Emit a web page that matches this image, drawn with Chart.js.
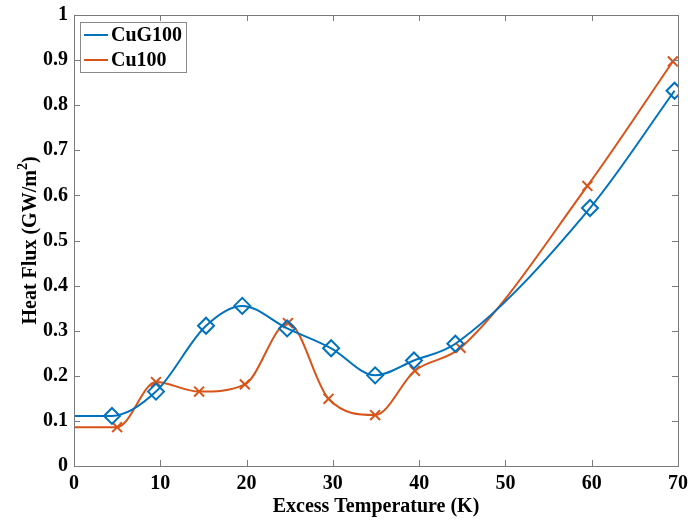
<!DOCTYPE html>
<html>
<head>
<meta charset="utf-8">
<script src="https://cdn.jsdelivr.net/npm/chart.js@4/dist/chart.umd.min.js"></script>
<style>
  html, body { margin: 0; padding: 0; background: #fff; }
  #wrap { width: 688px; height: 522px; }
</style>
</head>
<body>
<div id="wrap"><canvas id="chart"></canvas></div>
<script>
// Excess temperature (K) and heat flux (GW/m^2) for both surfaces
const tempCuG = [0, 4.4, 9.5, 15.3, 19.5, 24.7, 29.8, 34.9, 39.4, 44.2, 59.8, 69.6];
const fluxCuG = [0.111, 0.111, 0.165, 0.311, 0.355, 0.305, 0.261, 0.201, 0.234, 0.271, 0.572, 0.832];
const tempCu = [0, 5.0, 9.5, 14.5, 19.8, 24.8, 29.5, 34.9, 39.5, 44.8, 59.5, 69.4];
const fluxCu = [0.086, 0.086, 0.186, 0.165, 0.181, 0.317, 0.149, 0.113, 0.211, 0.262, 0.621, 0.897];
const xTicks = [0, 10, 20, 30, 40, 50, 60, 70];
const yTicks = [0, 0.1, 0.2, 0.3, 0.4, 0.5, 0.6, 0.7, 0.8, 0.9, 1];

const blue = '#0072BD';
const red = '#D95319';
const font = 'Liberation Serif, Times New Roman, serif';

function toPoints(xs, ys) {
  return xs.map((x, i) => ({ x: x, y: ys[i] }));
}
// first point only anchors the flat lead-in, no marker there
function radii(n, r) {
  return Array.from({ length: n }, (_, i) => (i === 0 ? 0 : r));
}

// MATLAB-like box: frame on all sides with ticks pointing inward
const boxTicks = {
  id: 'boxTicks',
  afterDatasetsDraw(chart) {
    const { ctx, chartArea: a, scales } = chart;
    ctx.save();
    ctx.strokeStyle = '#7a7a7a';
    ctx.lineWidth = 1;
    ctx.strokeRect(a.left + 0.5, a.top + 0.5, a.right - a.left, a.bottom - a.top);
    ctx.beginPath();
    xTicks.forEach(v => {
      const px = Math.round(scales.x.getPixelForValue(v)) + 0.5;
      ctx.moveTo(px, a.bottom); ctx.lineTo(px, a.bottom - 6);
      ctx.moveTo(px, a.top); ctx.lineTo(px, a.top + 6);
    });
    yTicks.forEach(v => {
      const py = Math.round(scales.y.getPixelForValue(v)) + 0.5;
      ctx.moveTo(a.left, py); ctx.lineTo(a.left + 6, py);
      ctx.moveTo(a.right, py); ctx.lineTo(a.right - 6, py);
    });
    ctx.stroke();
    ctx.restore();
  }
};

// y title drawn by hand so the squared unit gets a proper superscript
const yTitle = {
  id: 'yTitle',
  afterDraw(chart) {
    const { ctx, chartArea: a } = chart;
    const main = 'Heat Flux (GW/m';
    ctx.save();
    ctx.translate(36, (a.top + a.bottom) / 2);
    ctx.rotate(-Math.PI / 2);
    ctx.fillStyle = '#000';
    ctx.textBaseline = 'alphabetic';
    ctx.font = 'bold 20px ' + font;
    const w1 = ctx.measureText(main).width;
    ctx.font = 'bold 14px ' + font;
    const w2 = ctx.measureText('2').width;
    ctx.font = 'bold 20px ' + font;
    const w3 = ctx.measureText(')').width;
    let x = -(w1 + w2 + w3) / 2;
    ctx.fillText(main, x, 0);
    x += w1;
    ctx.font = 'bold 14px ' + font;
    ctx.fillText('2', x, -9);
    x += w2;
    ctx.font = 'bold 20px ' + font;
    ctx.fillText(')', x, 0);
    ctx.restore();
  }
};

// legend box inside the top-left corner of the plot
const innerLegend = {
  id: 'innerLegend',
  afterDraw(chart) {
    const { ctx, chartArea: a } = chart;
    const x0 = a.left + 6, y0 = a.top + 7, w = 106, h = 50;
    ctx.save();
    ctx.fillStyle = '#fff';
    ctx.fillRect(x0, y0, w, h);
    ctx.strokeStyle = '#8a8a8a';
    ctx.lineWidth = 1;
    ctx.strokeRect(x0 + 0.5, y0 + 0.5, w, h);
    ctx.font = 'bold 20px ' + font;
    ctx.textBaseline = 'middle';
    chart.data.datasets.forEach((ds, i) => {
      const yy = y0 + 13 + i * 25;
      ctx.strokeStyle = ds.borderColor;
      ctx.lineWidth = 2;
      ctx.beginPath();
      ctx.moveTo(x0 + 4, yy); ctx.lineTo(x0 + 28, yy);
      ctx.stroke();
      ctx.fillStyle = '#000';
      ctx.fillText(ds.label, x0 + 31, yy + 1);
    });
    ctx.restore();
  }
};

new Chart(document.getElementById('chart'), {
  type: 'line',
  data: {
    datasets: [
      {
        label: 'CuG100',
        data: toPoints(tempCuG, fluxCuG),
        borderColor: blue,
        backgroundColor: 'rgba(0,0,0,0)',
        borderWidth: 2,
        cubicInterpolationMode: 'monotone',
        pointStyle: 'rectRot',
        pointRadius: radii(tempCuG.length, 8),
        pointBorderWidth: 2,
        pointBorderColor: blue,
        pointBackgroundColor: 'rgba(0,0,0,0)'
      },
      {
        label: 'Cu100',
        data: toPoints(tempCu, fluxCu),
        borderColor: red,
        backgroundColor: 'rgba(0,0,0,0)',
        borderWidth: 2,
        cubicInterpolationMode: 'monotone',
        pointStyle: 'crossRot',
        pointRadius: radii(tempCu.length, 7),
        pointBorderWidth: 2,
        pointBorderColor: red
      }
    ]
  },
  options: {
    responsive: true,
    maintainAspectRatio: false,
    animation: false,
    layout: { padding: { top: 15, right: 10, left: 0, bottom: 0 } },
    plugins: {
      legend: { display: false },
      tooltip: { enabled: false }
    },
    scales: {
      x: {
        type: 'linear',
        min: 0,
        max: 70,
        afterBuildTicks: s => { s.ticks = xTicks.map(v => ({ value: v })); },
        afterFit: s => { s.height = 56; s.paddingLeft = 0; s.paddingRight = 0; },
        grid: { display: false, drawTicks: false },
        border: { display: false },
        ticks: { color: '#000', padding: 6, font: { family: font, size: 20, weight: 'bold' } },
        title: {
          display: true,
          text: 'Excess Temperature (K)',
          color: '#000',
          padding: { top: 0, bottom: 3 },
          font: { family: font, size: 20, weight: 'bold' }
        }
      },
      y: {
        min: 0,
        max: 1,
        afterBuildTicks: s => { s.ticks = yTicks.map(v => ({ value: v })); },
        afterFit: s => { s.width = 74; s.paddingTop = 0; s.paddingBottom = 0; },
        grid: { display: false, drawTicks: false },
        border: { display: false },
        ticks: {
          color: '#000',
          padding: 6,
          callback: v => String(Math.round(v * 10) / 10),
          font: { family: font, size: 20, weight: 'bold' }
        }
      }
    }
  },
  plugins: [boxTicks, yTitle, innerLegend]
});
</script>
</body>
</html>
